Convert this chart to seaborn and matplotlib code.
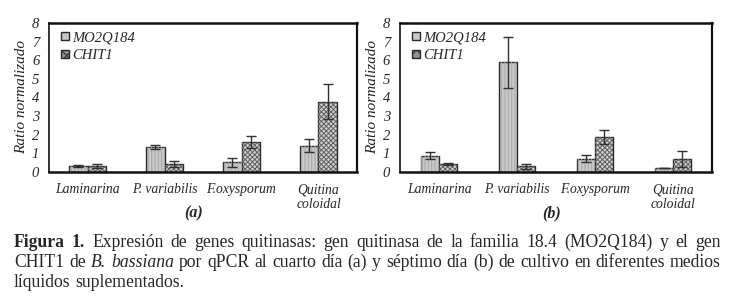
import pandas as pd
import seaborn as sns
import matplotlib.pyplot as plt
from matplotlib.patches import Patch, Rectangle

# --- Data ---
medios = ['Laminarina', 'P. variabilis', 'F.oxysporum', 'Quitina\ncoloidal']
genes = ['MO2Q184', 'CHIT1']

# panel (a): cuarto dia
mo_a = [0.33, 1.35, 0.52, 1.42]
mo_a_err = [0.04, 0.12, 0.25, 0.35]
chit_a = [0.33, 0.42, 1.60, 3.78]
chit_a_err = [0.10, 0.15, 0.33, 0.95]

# panel (b): septimo dia
mo_b = [0.88, 5.88, 0.72, 0.22]
mo_b_err = [0.18, 1.35, 0.20, 0.02]
chit_b = [0.45, 0.30, 1.88, 0.70]
chit_b_err = [0.05, 0.12, 0.37, 0.42]

y_ticks = list(range(0, 9))

FONT = 'Liberation Serif'
FILLS = ['#c8c8c8', '#d0d0d0']
HATCHES = ['|||||', 'xxxxxxx']
HATCH_COLS = ['#a8a8a8', '#606060']


def draw_panel(ax, mo, mo_err, chit, chit_err, letter, letter_x):
    df = pd.DataFrame({
        'medio': medios * 2,
        'gen': [genes[0]] * 4 + [genes[1]] * 4,
        'ratio': mo + chit,
    })
    sns.barplot(data=df, x='medio', y='ratio', hue='gen', order=medios,
                hue_order=genes, palette=FILLS,
                width=0.47, gap=0, errorbar=None, edgecolor='#2a2a2a',
                linewidth=1.0, legend=False, ax=ax)
    for i, (cont, err) in enumerate(zip(ax.containers, [mo_err, chit_err])):
        for bar, e in zip(cont, err):
            # hatch overlay so the pattern can be lighter than the outline
            ax.add_patch(Rectangle((bar.get_x(), 0), bar.get_width(), bar.get_height(),
                                   facecolor='none', edgecolor=HATCH_COLS[i],
                                   hatch=HATCHES[i], linewidth=0, zorder=bar.get_zorder()))
            ax.errorbar(bar.get_x() + bar.get_width() / 2, bar.get_height(),
                        yerr=e, fmt='none', ecolor='#303030', elinewidth=1.0,
                        capsize=3.5, capthick=1.0, zorder=5)

    ax.set_xlim(-0.5, 3.5)
    ax.set_ylim(0, 8)
    ax.set_yticks(y_ticks)
    ax.set_yticklabels([str(t) for t in y_ticks], fontstyle='italic', fontsize=10.5)
    ax.set_xticks(range(4))
    ax.set_xticklabels(medios, fontstyle='italic', fontsize=9.8, linespacing=1.2)
    ax.set_xticks([-0.5, 0.5, 1.5, 2.5, 3.5], minor=True)
    ax.tick_params(axis='x', which='major', length=0, pad=8)
    ax.tick_params(axis='x', which='minor', length=4, width=1.2, direction='out')
    ax.tick_params(axis='y', length=3, width=1.0, direction='out', pad=4)
    ax.set_xlabel(letter, fontstyle='italic', fontweight='bold', fontsize=11.5)
    ax.xaxis.set_label_coords(letter_x, -0.225)
    ax.xaxis.label.set_va('top')
    ax.set_ylabel('Ratio normalizado', fontstyle='italic', fontsize=11,
                  color='#222222', labelpad=3)
    for side, lw in [('left', 1.2), ('bottom', 1.8), ('top', 1.8), ('right', 1.6)]:
        ax.spines[side].set_visible(True)
        ax.spines[side].set_linewidth(lw)
        ax.spines[side].set_color('#111111')
    ax.grid(False)

    handles = [Patch(facecolor=FILLS[0], edgecolor='#2a2a2a', label=genes[0]),
               Patch(facecolor='#909090', edgecolor='#2a2a2a', hatch='xxx', label=genes[1])]
    ax.legend(handles=handles, loc='upper left', frameon=False,
              prop={'family': FONT, 'style': 'italic', 'size': 10.5},
              handlelength=0.55, handleheight=0.55, handletextpad=0.2,
              labelspacing=0.35, borderaxespad=0, bbox_to_anchor=(0.02, 0.985))


def caption(fig, lines, x0, x1, y0, step, size):
    r = fig.canvas.get_renderer()
    probe = fig.text(0, 0, 'a a', fontsize=size, family=FONT)
    probe1 = fig.text(0, 0, 'aa', fontsize=size, family=FONT)
    sw = (probe.get_window_extent(renderer=r).width -
          probe1.get_window_extent(renderer=r).width) / fig.bbox.width
    probe.remove()
    probe1.remove()
    for li, (words, justify) in enumerate(lines):
        y = y0 - li * step
        texts = []
        for w, st in words:
            kw = {'fontsize': size, 'family': FONT}
            if st == 'b':
                kw['fontweight'] = 'bold'
            elif st == 'i':
                kw['fontstyle'] = 'italic'
            texts.append(fig.text(0, y, w, va='baseline', ha='left', **kw))
        widths = [t.get_window_extent(renderer=r).width / fig.bbox.width for t in texts]
        gap = (x1 - x0 - sum(widths)) / (len(texts) - 1) if justify else sw
        x = x0
        for t, w in zip(texts, widths):
            t.set_x(x)
            x += w + gap


sns.set_style('white')
plt.rcParams['font.family'] = [FONT, 'DejaVu Serif']
plt.rcParams['hatch.linewidth'] = 0.7

fig = plt.figure(figsize=(7.35, 3.01), dpi=100)
ax_a = fig.add_axes([0.0667, 0.4286, 0.419, 0.495])
ax_b = fig.add_axes([0.5442, 0.4286, 0.4245, 0.495])
draw_panel(ax_a, mo_a, mo_a_err, chit_a, chit_a_err, '(a)', 0.468)
draw_panel(ax_b, mo_b, mo_b_err, chit_b, chit_b_err, '(b)', 0.487)


def words_of(s, st=''):
    return [(w, st) for w in s.split()]


line1 = [('Figura', 'b'), ('1.', 'b')] + words_of(
    'Expresión de genes quitinasas: gen quitinasa de la familia 18.4 (MO2Q184) y el gen')
line2 = words_of('CHIT1 de') + [('B.', 'i'), ('bassiana', 'i')] + words_of(
    'por qPCR al cuarto día (a) y séptimo día (b) de cultivo en diferentes medios')
line3 = words_of('líquidos suplementados.')

fig.canvas.draw()
caption(fig, [(line1, True), (line2, True), (line3, False)],
        x0=14 / 735, x1=721 / 735, y0=1 - 247 / 301, step=20 / 301, size=12.7)

fig.savefig('out.png', dpi=100)
